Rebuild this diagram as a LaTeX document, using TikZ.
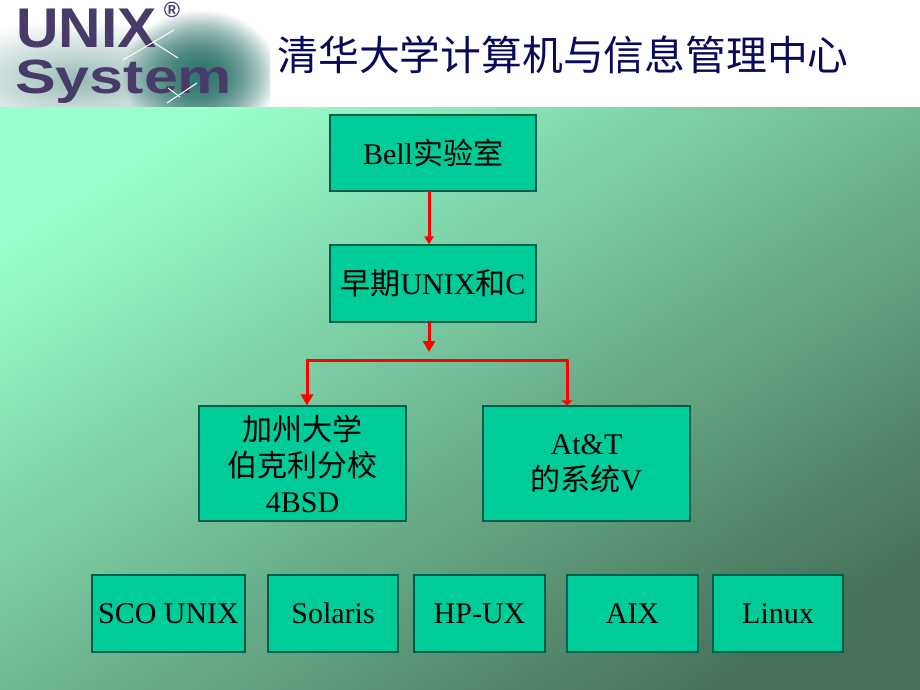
\documentclass[tikz,border=0pt]{standalone}
\usepackage{fontspec}
\setmainfont{Liberation Serif}
\setsansfont{Liberation Sans}
\newfontfamily\cjk{Noto Sans CJK SC}
\usetikzlibrary{arrows.meta,calc,fadings}
\definecolor{boxgreen}{RGB}{0,204,153}
\definecolor{boxline}{RGB}{0,95,72}
\definecolor{titleblue}{RGB}{10,10,90}
\definecolor{logopurple}{RGB}{72,58,105}
\definecolor{logoteal}{RGB}{50,120,110}
\definecolor{bglight}{RGB}{153,255,204}
\definecolor{bgdark}{RGB}{71,115,92}
\tikzfading[name=blobfade,inner color=transparent!0,outer color=transparent!100]
\tikzset{
  box/.style={draw=boxline,line width=1.2pt,fill=boxgreen,text=black,align=center,inner sep=0pt,
    minimum height=77pt,font=\fontsize{30}{36}\selectfont},
  redline/.style={draw=red,line width=3pt,line cap=round,line join=round},
  thinhead/.style={-{Triangle[length=8pt,width=9pt]}},
  fathead/.style={-{Triangle[length=11pt,width=12pt]}},
  flathead/.style={-{Triangle[length=5pt,width=11pt]}},
  logotext/.style={text=logopurple,inner sep=0pt},
  spark/.style={draw=white,line width=1pt}
}
\begin{document}
\begin{tikzpicture}[x=1pt,y=-1pt]
\useasboundingbox (0,0) rectangle (920,690);
\fill[white] (0,0) rectangle (920,108);
\begin{scope}
\clip (0,0) rectangle (270,108);
\fill[logoteal,opacity=.5,path fading=blobfade] (80,80) ellipse (150 and 60);
\fill[logoteal,path fading=blobfade] (200,75) ellipse (78 and 65);
\fill[logoteal,path fading=blobfade] (200,75) ellipse (78 and 65);
\end{scope}
\node[logotext,anchor=base west,xscale=1.05,font=\sffamily\bfseries\fontsize{56}{56}\selectfont] (unix) at (16,48) {UNIX};
\node[logotext,anchor=base west,xscale=1.27,font=\sffamily\bfseries\fontsize{48}{48}\selectfont] (system) at (15,94) {System};
\node[text=logopurple,inner sep=0pt,font=\sffamily\bfseries\fontsize{22}{22}\selectfont] (reg) at (172,10) {®};
\draw[spark] (174,30) -- (123,60);
\draw[spark] (153,42) -- (178,58);
\draw[spark] (197,83) -- (167,103);
\draw[spark] (168,88) -- (180,97);
\node[anchor=base,text=titleblue,inner sep=0pt,font=\cjk\fontsize{40.8}{41}\selectfont] (title) at (563,71) {清华大学计算机与信息管理中心};
\begin{scope}
\clip (0,108) rectangle (920,690);
\shade[top color=bglight,bottom color=bgdark,shading angle=32.3] (-40,108) rectangle (960,690);
\end{scope}
\node[box,minimum width=206pt,minimum height=76pt] (bell) at (433,153) {Bell{\cjk 实验室}};
\node[box,minimum width=206pt] (early) at (433,283.5) {{\cjk 早期}UNIX{\cjk 和}C};
\node[box,minimum width=207pt,minimum height=115pt] (bsd) at (302.5,463.5) {{\cjk 加州大学}\\{\cjk 伯克利分校}\\4BSD};
\node[box,minimum width=207pt,minimum height=115pt] (att) at (586.5,463.5) {At\&T\\{\cjk 的系统}V};
\node[box,minimum width=153pt] (sco) at (168.5,613.5) {SCO UNIX};
\node[box,minimum width=130pt] (solaris) at (333,613.5) {Solaris};
\node[box,minimum width=131pt] (hpux) at (479.5,613.5) {HP-UX};
\node[box,minimum width=131pt] (aix) at (632.5,613.5) {AIX};
\node[box,minimum width=130pt] (linux) at (778,613.5) {Linux};
\coordinate (branchtip) at (429,352);
\coordinate (branchleft) at (307,360);
\coordinate (branchright) at (567,360);
\draw[redline,thinhead] (bell.south -| branchtip) -- (early.north -| branchtip);
\draw[redline,fathead] (early.south -| branchtip) -- (branchtip);
\draw[redline] (branchleft) -- (branchright);
\draw[redline,fathead] (branchleft) -- (bsd.north -| branchleft);
\draw[redline,flathead] (branchright) -- (att.north -| branchright);
\end{tikzpicture}
\end{document}
